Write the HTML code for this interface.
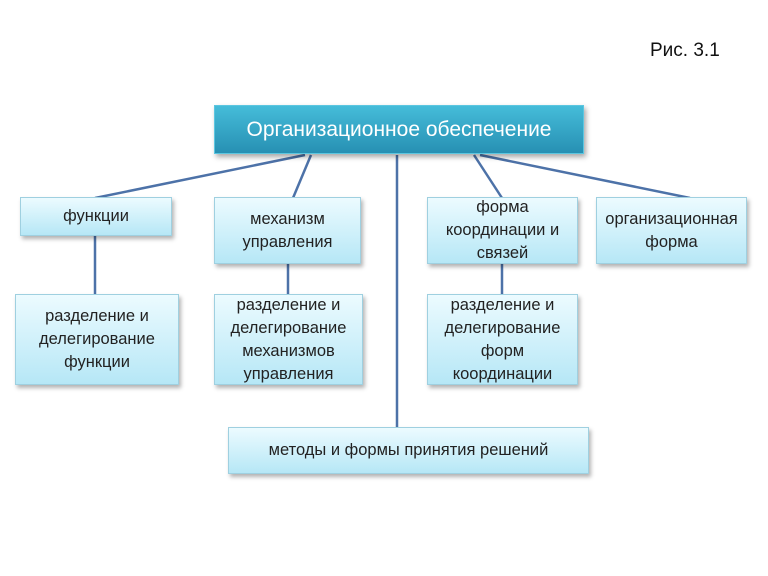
<!DOCTYPE html>
<html><head><meta charset="utf-8"><style>
body{margin:0;width:768px;height:576px;background:#fff;position:relative;overflow:hidden;font-family:"Liberation Sans","DejaVu Sans",sans-serif;}
.b{position:absolute;box-sizing:border-box;border:1px solid #9fd0e0;background:linear-gradient(#ecfbff,#b6e7f6);box-shadow:2px 3px 4px rgba(0,0,0,0.3);display:flex;align-items:center;justify-content:center;text-align:center;font-size:16.5px;line-height:23px;color:#222;}
.top{position:absolute;left:214px;top:105px;width:370px;height:49px;background:linear-gradient(#45bcd9,#2790b3);border:1px solid #5cc6e0;box-sizing:border-box;box-shadow:2px 3px 5px rgba(0,0,0,0.35);color:#fff;font-size:21px;display:flex;align-items:center;justify-content:center;}
svg{position:absolute;left:0;top:0}
</style></head><body>
<div style="position:absolute;left:650px;top:40px;font-size:19px;color:#111">Рис. 3.1</div>
<svg width="768" height="576"><g stroke="#4d72a8" stroke-width="2.5" fill="none">
<line x1="305" y1="155" x2="95" y2="198"/>
<line x1="311" y1="155" x2="293" y2="198"/>
<line x1="397" y1="155" x2="397" y2="428"/>
<line x1="474" y1="155" x2="502" y2="198"/>
<line x1="480" y1="155" x2="690" y2="198"/>
<line x1="95" y1="236" x2="95" y2="295"/>
<line x1="288" y1="264" x2="288" y2="295"/>
<line x1="502" y1="264" x2="502" y2="295"/>
</g></svg>
<div class="top">Организационное обеспечение</div>
<div class="b" style="left:20px;top:197px;width:152px;height:39px">функции</div>
<div class="b" style="left:214px;top:197px;width:147px;height:67px">механизм<br>управления</div>
<div class="b" style="left:427px;top:197px;width:151px;height:67px">форма<br>координации и<br>связей</div>
<div class="b" style="left:596px;top:197px;width:151px;height:67px">организационная<br>форма</div>
<div class="b" style="left:15px;top:294px;width:164px;height:91px">разделение и<br>делегирование<br>функции</div>
<div class="b" style="left:214px;top:294px;width:149px;height:91px">разделение и<br>делегирование<br>механизмов<br>управления</div>
<div class="b" style="left:427px;top:294px;width:151px;height:91px">разделение и<br>делегирование<br>форм<br>координации</div>
<div class="b" style="left:228px;top:427px;width:361px;height:47px">методы и формы принятия решений</div>
</body></html>
